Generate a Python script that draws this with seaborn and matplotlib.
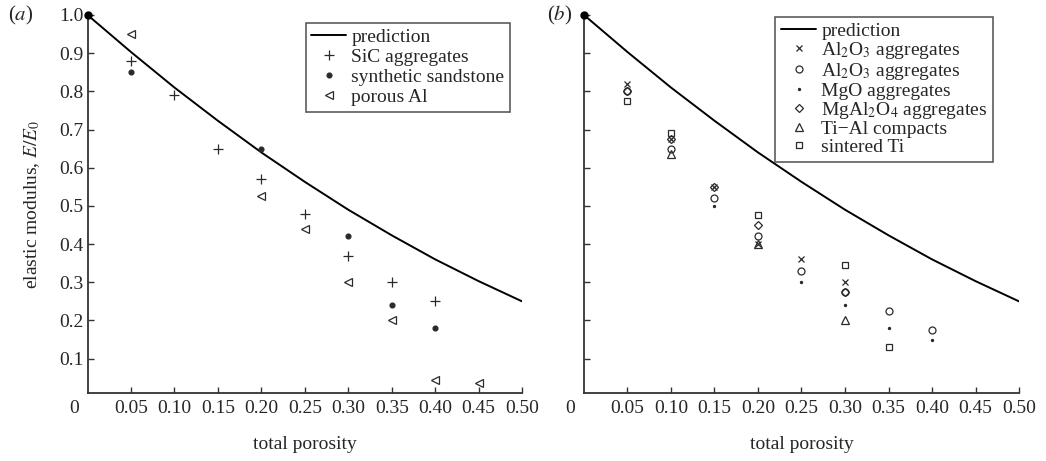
import matplotlib
matplotlib.use('Agg')
import matplotlib.pyplot as plt
import matplotlib.transforms as mtransforms
import numpy as np
import pandas as pd
import seaborn as sns

# ---------------------------- data ---------------------------- #

porosity_pred = [0.0, 0.05, 0.10, 0.15, 0.20, 0.25, 0.30, 0.35, 0.40, 0.45, 0.50]
modulus_pred = [1.0, 0.903, 0.81, 0.723, 0.64, 0.563, 0.49, 0.423, 0.36, 0.303, 0.25]

# panel (a)
sic_x = [0.05, 0.10, 0.15, 0.20, 0.25, 0.30, 0.35, 0.40]
sic_y = [0.88, 0.79, 0.65, 0.57, 0.48, 0.37, 0.30, 0.25]
sandstone_x = [0.05, 0.20, 0.30, 0.35, 0.40]
sandstone_y = [0.85, 0.65, 0.42, 0.24, 0.18]
porous_al_x = [0.05, 0.20, 0.25, 0.30, 0.35, 0.40, 0.45]
porous_al_y = [0.95, 0.525, 0.44, 0.30, 0.20, 0.045, 0.035]

# panel (b)
al2o3_x_x = [0.05, 0.10, 0.15, 0.20, 0.25, 0.30]
al2o3_x_y = [0.82, 0.675, 0.55, 0.40, 0.36, 0.30]
al2o3_o_x = [0.05, 0.10, 0.15, 0.20, 0.25, 0.30, 0.35, 0.40]
al2o3_o_y = [0.80, 0.65, 0.52, 0.42, 0.33, 0.275, 0.225, 0.175]
mgo_x = [0.15, 0.25, 0.30, 0.35, 0.40]
mgo_y = [0.50, 0.30, 0.24, 0.18, 0.15]
mgal2o4_x = [0.05, 0.10, 0.15, 0.20, 0.30]
mgal2o4_y = [0.80, 0.675, 0.55, 0.45, 0.275]
tial_x = [0.10, 0.20, 0.30]
tial_y = [0.635, 0.40, 0.20]
ti_x = [0.05, 0.10, 0.20, 0.30, 0.35]
ti_y = [0.775, 0.69, 0.475, 0.345, 0.13]

xtick_vals = [0.05, 0.10, 0.15, 0.20, 0.25, 0.30, 0.35, 0.40, 0.45, 0.50]
xtick_labels = ['0.05', '0.10', '0.15', '0.20', '0.25', '0.30', '0.35', '0.40', '0.45', '0.50']
ytick_vals = [0.1, 0.2, 0.3, 0.4, 0.5, 0.6, 0.7, 0.8, 0.9, 1.0]
ytick_labels = ['0.1', '0.2', '0.3', '0.4', '0.5', '0.6', '0.7', '0.8', '0.9', '1.0']

# ---------------------------- style ---------------------------- #

sns.set_style('ticks')
plt.rcParams['font.family'] = ['Liberation Serif', 'DejaVu Serif']
plt.rcParams['mathtext.fontset'] = 'stix'
plt.rcParams['xtick.direction'] = 'in'
plt.rcParams['ytick.direction'] = 'in'

mark_col = '#2a2a2a'
fs = 14


def points(ax, x, y, marker, label, size, filled=False, mew=0.9):
    sns.lineplot(x=x, y=y, ax=ax, estimator=None, errorbar=None, sort=False,
                 linestyle='none', marker=marker, markersize=size,
                 markerfacecolor=mark_col if filled else 'none',
                 markeredgecolor=mark_col, markeredgewidth=mew,
                 color=mark_col, label=label)


def prediction(ax):
    sns.lineplot(x=porosity_pred, y=modulus_pred, ax=ax, estimator=None, errorbar=None,
                 sort=False, color='k', linewidth=1.4, label='prediction')
    ax.plot([0], [1.0], marker='o', color='k', markersize=5, clip_on=False, zorder=5)


def set_axes(ax, ylabels=True):
    ax.set_xlim(0, 0.5)
    ax.set_ylim(0.01, 1.0)
    ax.set_xticks(xtick_vals)
    ax.set_xticklabels(xtick_labels)
    ax.set_yticks(ytick_vals)
    if ylabels:
        ax.set_yticklabels(ytick_labels)
    else:
        ax.set_yticklabels([])
    ax.tick_params(length=4, width=1, labelsize=fs, pad=5, color='#333333')
    ax.tick_params(axis='y', pad=3)
    for s in ['left', 'bottom']:
        ax.spines[s].set_linewidth(1.3)
        ax.spines[s].set_color('#333333')
    sns.despine(ax=ax)
    ax.set_xlabel('total porosity', fontsize=fs, labelpad=14)
    # the lone origin label sits left of the corner
    trans = mtransforms.blended_transform_factory(ax.transData, ax.transAxes)
    ax.text(-0.016, -0.018, '0', transform=trans, ha='center', va='top', fontsize=fs)


fig = plt.figure(figsize=(10.46, 4.61), dpi=100)
ax1 = fig.add_axes([0.0837, 0.1475, 0.4154, 0.82])
ax2 = fig.add_axes([0.5583, 0.1475, 0.4159, 0.82])

# ---------------------------- panel (a) ---------------------------- #
prediction(ax1)
points(ax1, sic_x, sic_y, '+', 'SiC aggregates', 7)
points(ax1, sandstone_x, sandstone_y, 'o', 'synthetic sandstone', 3.5, filled=True)
points(ax1, porous_al_x, porous_al_y, '<', 'porous Al', 5.5)
set_axes(ax1)
ax1.set_ylabel('elastic modulus, $E/E_0$', fontsize=fs, labelpad=12)
leg1 = ax1.legend(loc='upper right', bbox_to_anchor=(0.497, 0.972), bbox_transform=fig.transFigure,
                  fontsize=fs, frameon=True, fancybox=False, edgecolor='#333333',
                  handlelength=1.8, handletextpad=0.25, labelspacing=0.12, borderpad=0.3)
leg1.get_frame().set_linewidth(1.2)
fig.text(0.008, 0.967, '($a$)', fontsize=15, va='center')

# ---------------------------- panel (b) ---------------------------- #
prediction(ax2)
points(ax2, al2o3_x_x, al2o3_x_y, 'x', 'Al$_2$O$_3$ aggregates', 4)
points(ax2, al2o3_o_x, al2o3_o_y, 'o', 'Al$_2$O$_3$ aggregates', 5)
points(ax2, mgo_x, mgo_y, '.', 'MgO aggregates', 3, filled=True)
points(ax2, mgal2o4_x, mgal2o4_y, 'D', 'MgAl$_2$O$_4$ aggregates', 4)
points(ax2, tial_x, tial_y, '^', 'Ti\u2212Al compacts', 6)
points(ax2, ti_x, ti_y, 's', 'sintered Ti', 4.5)
set_axes(ax2, ylabels=False)
leg2 = ax2.legend(loc='upper right', bbox_to_anchor=(0.959, 0.985), bbox_transform=fig.transFigure,
                  fontsize=fs, frameon=True, fancybox=False, edgecolor='#333333',
                  handlelength=1.8, handletextpad=0.25, labelspacing=0.0, borderpad=0.3)
leg2.get_frame().set_linewidth(1.2)
fig.text(0.523, 0.967, '($b$)', fontsize=15, va='center')

fig.savefig('out.png', dpi=100)
